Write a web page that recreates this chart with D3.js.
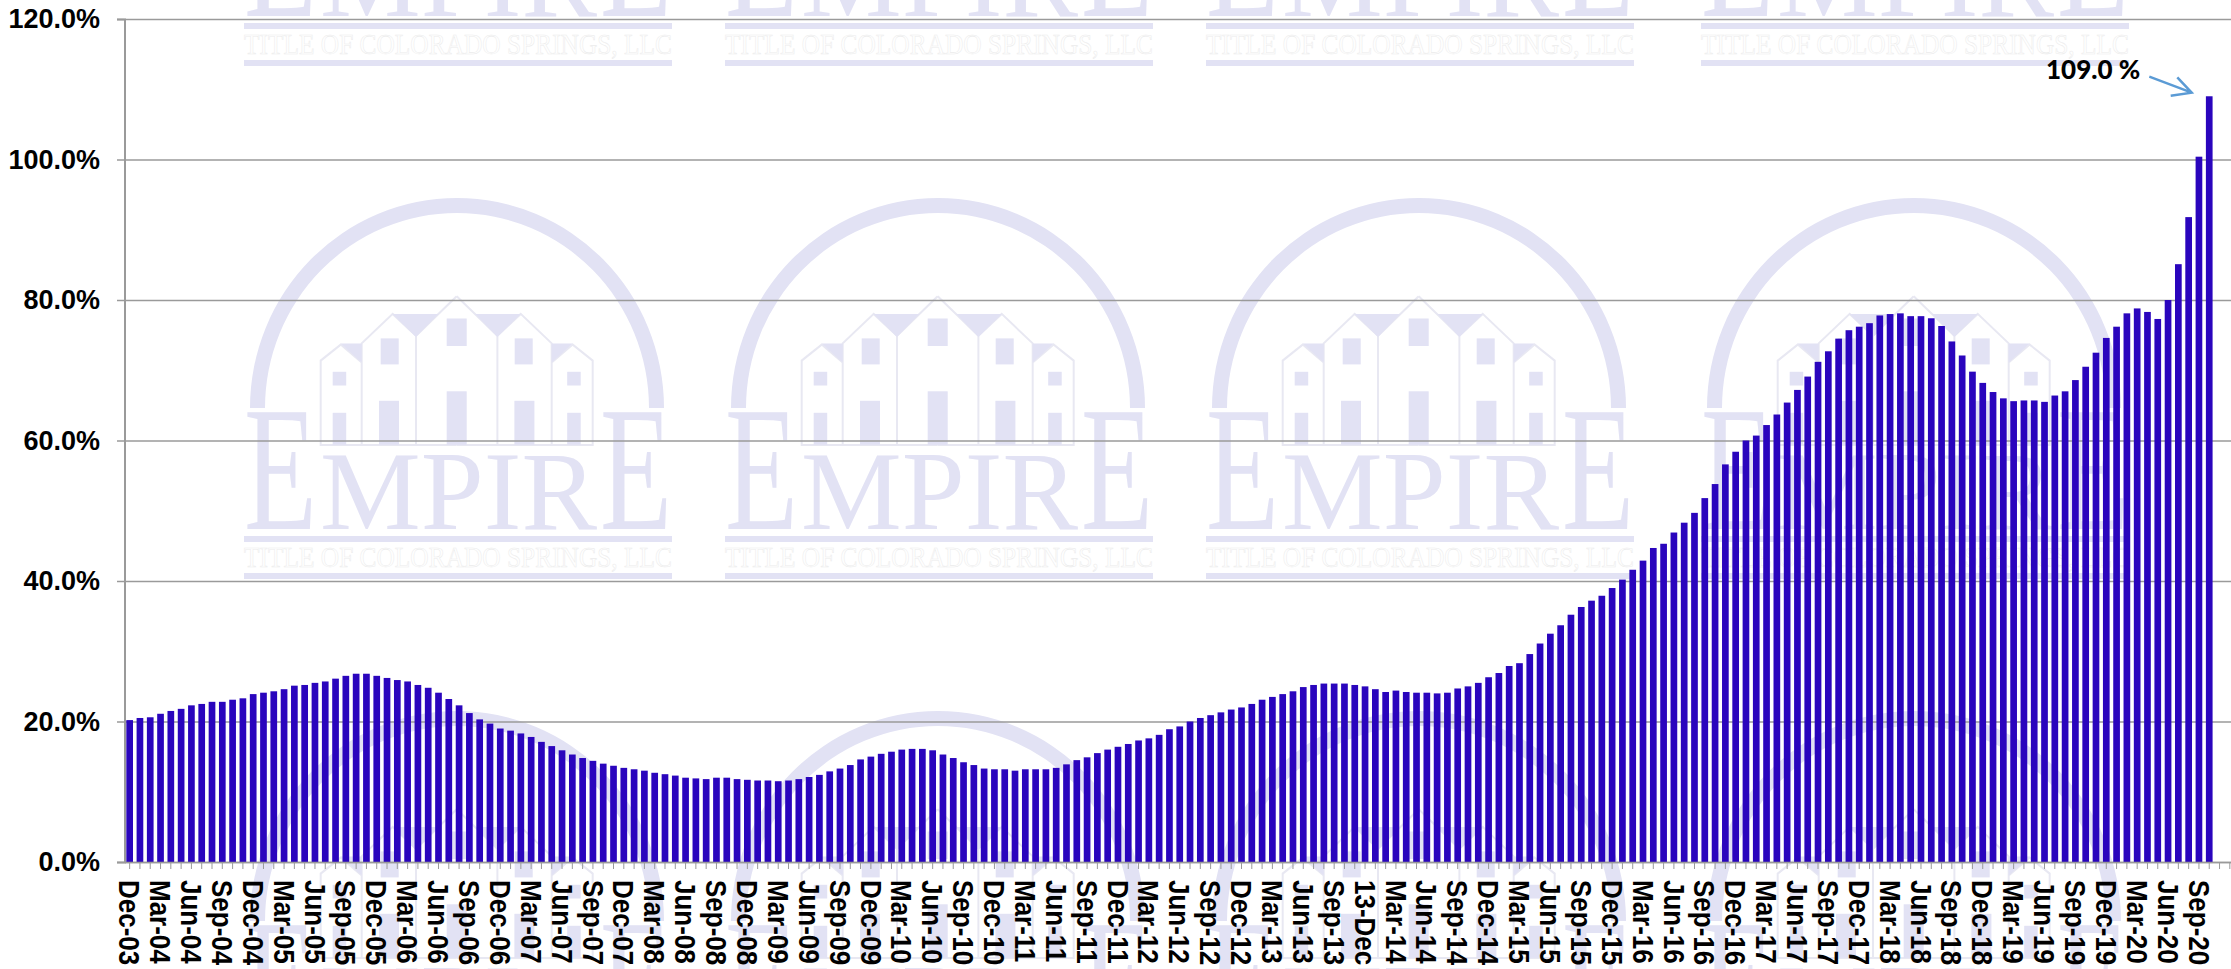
<!DOCTYPE html>
<html>
<head>
<meta charset="utf-8">
<script src="https://cdn.jsdelivr.net/npm/d3@7"></script>
<style>
  html, body { margin: 0; background: #fff; overflow: hidden; }
  svg { display: block; }
  text { font-family: "Liberation Sans", Arial, sans-serif; }
</style>
</head>
<body>
<div id="chart"></div>
<script>
// monthly values (%), Dec-03 to Oct-20
var values = [
  20.2, 20.5, 20.6, 21.1, 21.5, 21.8, 22.3, 22.5, 22.8, 22.8, 23.1, 23.3,
  23.9, 24.1, 24.3, 24.6, 25.1, 25.2, 25.5, 25.7, 26.1, 26.5, 26.8, 26.8,
  26.5, 26.2, 25.9, 25.7, 25.2, 24.8, 24.1, 23.2, 22.3, 21.2, 20.3, 19.7,
  19.0, 18.7, 18.3, 17.8, 17.1, 16.5, 15.9, 15.3, 14.8, 14.4, 14.0, 13.7,
  13.4, 13.2, 13.0, 12.7, 12.5, 12.3, 12.0, 11.9, 11.8, 12.0, 12.0, 11.8,
  11.7, 11.6, 11.6, 11.5, 11.6, 11.8, 12.1, 12.4, 12.9, 13.3, 13.8, 14.6,
  15.0, 15.4, 15.7, 16.0, 16.1, 16.1, 15.9, 15.3, 14.8, 14.2, 13.8, 13.3,
  13.2, 13.2, 13.0, 13.2, 13.2, 13.2, 13.4, 13.9, 14.5, 14.9, 15.5, 16.0,
  16.4, 16.8, 17.3, 17.6, 18.1, 18.9, 19.3, 20.0, 20.5, 20.9, 21.3, 21.7,
  22.0, 22.5, 23.1, 23.5, 23.9, 24.3, 24.9, 25.2, 25.4, 25.4, 25.4, 25.2,
  25.0, 24.6, 24.2, 24.4, 24.2, 24.1, 24.1, 24.0, 24.1, 24.7, 25.0, 25.5,
  26.3, 26.9, 27.9, 28.3, 29.6, 31.1, 32.5, 33.7, 35.2, 36.3, 37.2, 37.9,
  39.0, 40.2, 41.6, 42.9, 44.7, 45.3, 46.9, 48.3, 49.7, 51.8, 53.8, 56.6,
  58.4, 60.0, 60.7, 62.2, 63.7, 65.4, 67.2, 69.1, 71.2, 72.7, 74.5, 75.7,
  76.2, 76.7, 77.8, 78.0, 78.1, 77.7, 77.7, 77.4, 76.3, 74.1, 72.1, 69.8,
  68.2, 66.9, 66.0, 65.6, 65.7, 65.7, 65.5, 66.4, 67.0, 68.6, 70.5, 72.5,
  74.6, 76.2, 78.1, 78.8, 78.3, 77.3, 80.0, 85.1, 91.8, 100.4, 109.0
];

// one label every third month
var tickLabels = [
  "Dec-03", "Mar-04", "Jun-04", "Sep-04", "Dec-04", "Mar-05", "Jun-05", "Sep-05",
  "Dec-05", "Mar-06", "Jun-06", "Sep-06", "Dec-06", "Mar-07", "Jun-07", "Sep-07",
  "Dec-07", "Mar-08", "Jun-08", "Sep-08", "Dec-08", "Mar-09", "Jun-09", "Sep-09",
  "Dec-09", "Mar-10", "Jun-10", "Sep-10", "Dec-10", "Mar-11", "Jun-11", "Sep-11",
  "Dec-11", "Mar-12", "Jun-12", "Sep-12", "Dec-12", "Mar-13", "Jun-13", "Sep-13",
  "13-Dec", "Mar-14", "Jun-14", "Sep-14", "Dec-14", "Mar-15", "Jun-15", "Sep-15",
  "Dec-15", "Mar-16", "Jun-16", "Sep-16", "Dec-16", "Mar-17", "Jun-17", "Sep-17",
  "Dec-17", "Mar-18", "Jun-18", "Sep-18", "Dec-18", "Mar-19", "Jun-19", "Sep-19",
  "Dec-19", "Mar-20", "Jun-20", "Sep-20"
];

var yTicks = [0, 20, 40, 60, 80, 100, 120];
var annotation = "109.0 %";

var svgWidth = 2231;
var svgHeight = 969;
var barCount = 205;   // the axis carries on past the last bar
var barStep = 10.295;

var margin = { top: 19, left: 124.5, bottom: 107 };
var plotBottom = svgHeight - margin.bottom;
var axisGrey = "#9a9a9a";
var markColor = "#2a05bd";
var logoColor = "#e2e2f4";

var svg = d3.select("#chart")
  .append("svg")
  .attr("width", svgWidth)
  .attr("height", svgHeight);

// Watermark, tiled behind the chart
var tileX = [0, 481, 962, 1457];
var tileY = [-513, 0, 513];

function logoText(g, str, x, len, size) {
  g.append("text")
    .attr("x", x)
    .attr("y", 529)
    .attr("textLength", len)
    .attr("lengthAdjust", "spacingAndGlyphs")
    .style("font-family", "'Liberation Serif', serif")
    .style("font-size", size + "px")
    .attr("fill", logoColor)
    .text(str);
}

function drawLogo(g) {
  g.append("path")
    .attr("d", "M250,408 A207,210 0 0 1 664,408 L649,408 A192,195 0 0 0 265,408 Z")
    .attr("fill", logoColor);

  // left side of the houses, mirrored around x = 456.7
  [1, -1].forEach(function (side) {
    var h = g.append("g")
      .attr("transform", side === 1 ? null : "translate(913.4,0) scale(-1,1)");
    h.append("path")
      .attr("d", "M456.7,296.3 L416,335.7 L416,444.9 L456.7,444.9 M416,335.7 L392.7,313.9 L361.7,343.4 L361.7,444.9 M361.7,362.5 L340.7,344.6 L320.7,360.6 L320.7,444.9 L456.7,444.9")
      .attr("fill", "none")
      .attr("stroke", "#e8e8f2")
      .attr("stroke-width", 2);
    h.append("path")
      .attr("d", "M392.7,313.9 L438.3,313.9 L416,336.9 Z M340.7,343.4 L361.7,343.4 L361.7,362.5 Z")
      .attr("fill", logoColor);
    var panes = [
      [380.7, 338.4, 18, 26], [379, 400.8, 20, 44],
      [332.7, 371.8, 13.5, 13.7], [332.7, 412.8, 13.5, 32]
    ];
    panes.forEach(function (p) {
      h.append("rect").attr("x", p[0]).attr("y", p[1]).attr("width", p[2]).attr("height", p[3]).attr("fill", logoColor);
    });
  });
  g.append("rect").attr("x", 446.7).attr("y", 318.5).attr("width", 20).attr("height", 27.5).attr("fill", logoColor);
  g.append("rect").attr("x", 446.7).attr("y", 391.3).attr("width", 20).attr("height", 53.6).attr("fill", logoColor);

  // the two outer E are taller than MPIR
  logoText(g, "E", 244, 73, 177);
  logoText(g, "MPIR", 320, 277, 113);
  logoText(g, "E", 600, 72, 177);

  g.append("rect").attr("x", 244).attr("y", 536).attr("width", 428).attr("height", 6).attr("fill", logoColor);
  g.append("rect").attr("x", 244).attr("y", 573).attr("width", 428).attr("height", 6).attr("fill", logoColor);

  g.append("text")
    .attr("x", 244)
    .attr("y", 567)
    .attr("textLength", 428)
    .attr("lengthAdjust", "spacingAndGlyphs")
    .style("font-family", "'Liberation Serif', serif")
    .style("font-size", "30px")
    .attr("fill", "#fff")
    .attr("stroke", "#ececec")
    .attr("stroke-width", 0.6)
    .text("TITLE OF COLORADO SPRINGS, LLC");
}

var logoGroup = svg.append("g");
tileX.forEach(function (dx) {
  tileY.forEach(function (dy) {
    logoGroup.append("g")
      .attr("transform", `translate(${dx}, ${dy})`)
      .call(drawLogo);
  });
});

// Scales
var xBandScale = d3.scaleBand()
  .domain(d3.range(barCount))
  .range([margin.left, margin.left + barCount * barStep])
  .paddingInner(0.35)
  .paddingOuter(0.175);

var yLinearScale = d3.scaleLinear()
  .domain([0, 120])
  .range([plotBottom, margin.top]);

// Gridlines
var grid = svg.append("g")
  .attr("transform", `translate(${margin.left}, 0)`)
  .call(d3.axisLeft(yLinearScale)
    .tickValues(yTicks)
    .tickSize(-(svgWidth - margin.left))
    .tickFormat(""));
grid.select(".domain").remove();
grid.selectAll("line").attr("stroke", axisGrey).attr("stroke-width", 1.5);

// Bars
svg.append("g")
  .selectAll("rect")
  .data(values)
  .enter()
  .append("rect")
  .attr("x", (d, i) => xBandScale(i))
  .attr("y", d => yLinearScale(d))
  .attr("width", xBandScale.bandwidth())
  .attr("height", d => plotBottom - yLinearScale(d))
  .attr("fill", markColor);

// Y axis
var leftAxis = d3.axisLeft(yLinearScale)
  .tickValues(yTicks)
  .tickSize(7.5)
  .tickPadding(17)
  .tickFormat(d => d3.format(".1f")(d) + "%");

var yAxis = svg.append("g")
  .attr("transform", `translate(${margin.left}, 0)`)
  .call(leftAxis);
yAxis.select(".domain").attr("stroke", axisGrey).attr("stroke-width", 2);
yAxis.selectAll("line").attr("stroke", axisGrey).attr("stroke-width", 1.5);
yAxis.selectAll("text")
  .style("font-family", "'Liberation Sans', Arial, sans-serif")
  .style("font-size", "27px")
  .style("font-weight", "bold")
  .attr("fill", "#000");

// X axis, a tick on every month and a label every third
var bottomAxis = d3.axisBottom(xBandScale)
  .tickSize(7)
  .tickSizeOuter(0)
  .tickFormat(i => (i % 3 === 0 && tickLabels[i / 3]) || "");

var xAxis = svg.append("g")
  .attr("transform", `translate(0, ${plotBottom})`)
  .call(bottomAxis);
xAxis.select(".domain").attr("stroke", axisGrey).attr("stroke-width", 1.5);
xAxis.selectAll("line").attr("stroke", axisGrey).attr("stroke-width", 1);
// the labels are stretched across their height in the reference
xAxis.selectAll("text")
  .attr("transform", "rotate(90) scale(1, 1.14)")
  .attr("x", 18)
  .attr("y", 0)
  .attr("dy", ".35em")
  .style("text-anchor", "start")
  .style("font-family", "'Liberation Sans', Arial, sans-serif")
  .style("font-size", "26px")
  .style("font-weight", "bold")
  .attr("fill", "#000");

// Callout on the last bar
svg.append("text")
  .attr("x", 2046)
  .attr("y", 78.5)
  .style("font-family", "Lato, sans-serif")
  .style("font-size", "26px")
  .style("font-weight", "900")
  .attr("fill", "#000")
  .text(annotation);

svg.append("path")
  .attr("d", "M2149.3,76.7 L2191.7,92.7 M2177.3,77.3 L2191.7,92.7 L2170.7,95.7")
  .attr("fill", "none")
  .attr("stroke", "#5b9bd5")
  .attr("stroke-width", 2.5);
</script>
</body>
</html>
